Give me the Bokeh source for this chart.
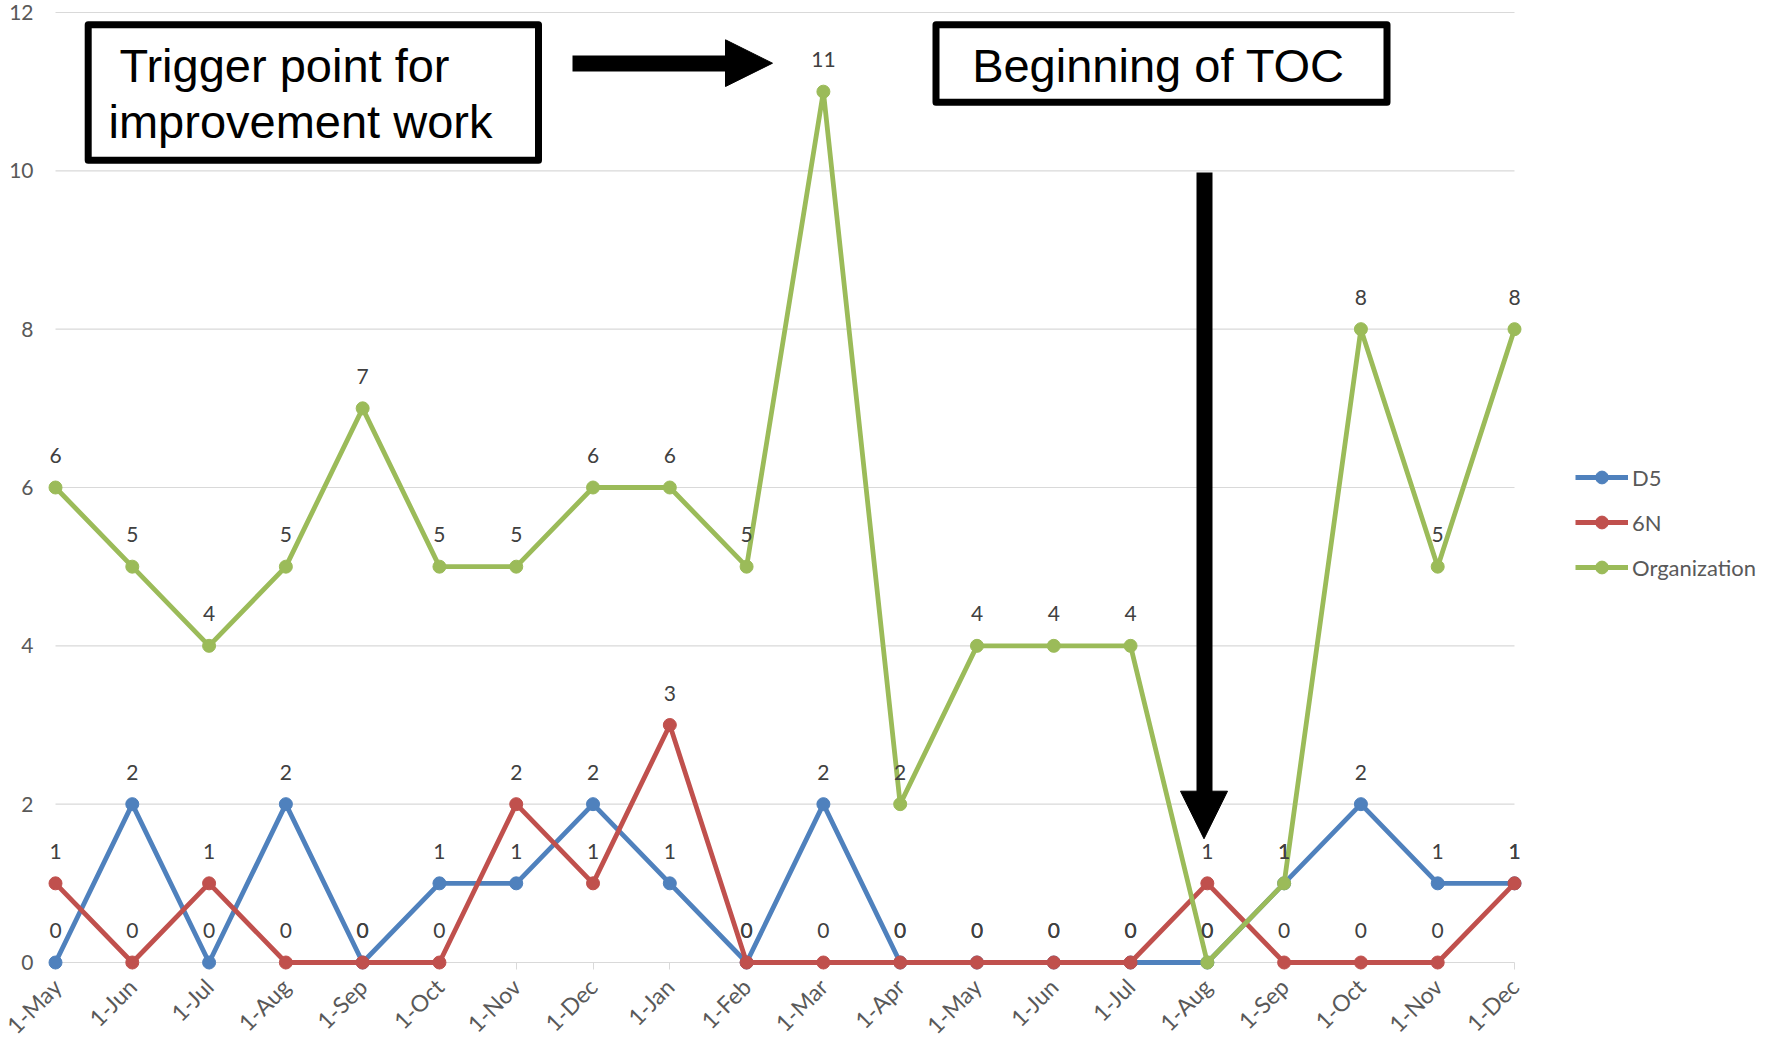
import math
from bokeh.plotting import figure
from bokeh.models import Range1d, FixedTicker, Legend, LegendItem, ColumnDataSource
from bokeh.core.properties import value
from bokeh.embed import file_html
from bokeh.resources import INLINE

# ---------------- data ----------------
months = ["1-May", "1-Jun", "1-Jul", "1-Aug", "1-Sep", "1-Oct", "1-Nov", "1-Dec",
          "1-Jan", "1-Feb", "1-Mar", "1-Apr", "1-May", "1-Jun", "1-Jul", "1-Aug",
          "1-Sep", "1-Oct", "1-Nov", "1-Dec"]
d5 = [0, 2, 0, 2, 0, 1, 1, 2, 1, 0, 2, 0, 0, 0, 0, 0, 1, 2, 1, 1]
n6 = [1, 0, 1, 0, 0, 0, 2, 1, 3, 0, 0, 0, 0, 0, 0, 1, 0, 0, 0, 1]
org = [6, 5, 4, 5, 7, 5, 5, 6, 6, 5, 11, 2, 4, 4, 4, 0, 1, 8, 5, 8]
series_names = ["D5", "6N", "Organization"]
series_values = [d5, n6, org]
y_ticks = [0, 2, 4, 6, 8, 10, 12]

# ---------------- layout constants (pixels) ----------------
# The frame covers the whole canvas; both axes are pinned at value 0 so that
# their labels, the legend and the call-outs all sit inside it.
W, H = 1777, 1040
X0_PX = 55                       # pixel column of the first category
X_LAST_PX = 1514                 # pixel column of the last category
Y0_PX = 962                      # pixel row of value 0
Y12_PX = 12                      # pixel row of value 12
X_LAST = len(months) - 1
PX_PER_X = (X_LAST_PX - X0_PX) / X_LAST
PX_PER_Y = (Y0_PX - Y12_PX) / 12.0

def px2x(px):
    return (px - X0_PX) / PX_PER_X

def py2y(py):
    return (Y0_PX - py) / PX_PER_Y

colors = ["#4F81BD", "#C0504D", "#9BBB59"]
LABEL_FONT = "Lato"
GRID = "#D9D9D9"

p = figure(width=W, height=H, output_backend="svg", toolbar_location=None,
           x_range=Range1d(px2x(0), px2x(W)), y_range=Range1d(py2y(H), py2y(0)),
           min_border_left=0, min_border_right=0, min_border_top=0,
           min_border_bottom=0)
p.outline_line_color = None
p.background_fill_color = "white"
p.border_fill_color = "white"

# axes
p.xaxis.fixed_location = 0
p.xaxis.ticker = FixedTicker(ticks=list(range(len(months))))
p.xaxis.major_label_overrides = {i: m for i, m in enumerate(months)}
p.xaxis.major_label_orientation = math.pi / 4
p.xaxis.axis_line_color = None
p.xaxis.major_tick_line_color = GRID
p.xaxis.major_tick_out = 7
p.xaxis.major_tick_in = 0
p.xaxis.minor_tick_line_color = None
p.xaxis.major_label_text_font = LABEL_FONT
p.xaxis.major_label_text_font_size = "23px"
p.xaxis.major_label_text_color = "#595959"
p.xaxis.major_label_standoff = 13

p.yaxis.fixed_location = 0
p.yaxis.ticker = FixedTicker(ticks=y_ticks)
p.yaxis.axis_line_color = None
p.yaxis.major_tick_line_color = None
p.yaxis.minor_tick_line_color = None
p.yaxis.major_label_text_font = LABEL_FONT
p.yaxis.major_label_text_font_size = "21px"
p.yaxis.major_label_text_color = "#595959"
p.yaxis.major_label_standoff = 16

p.xgrid.grid_line_color = None
p.ygrid.grid_line_color = None

# horizontal gridlines (and the category axis line at 0), spanning the categories only
p.segment(x0=[0] * len(y_ticks), x1=[X_LAST] * len(y_ticks), y0=y_ticks, y1=y_ticks,
          line_color=GRID, line_width=1.2)

# series
xs = list(range(len(months)))
items = []
for name, vals, col in zip(series_names, series_values, colors):
    src = ColumnDataSource(dict(x=xs, y=vals))
    lr = p.line("x", "y", source=src, line_color=col, line_width=4.8, level="overlay")
    sr = p.scatter("x", "y", source=src, size=13, fill_color=col, line_color=col,
                   level="overlay")
    items.append(LegendItem(label=name, renderers=[lr, sr]))

for name, vals, col in zip(series_names, series_values, colors):
    src = ColumnDataSource(dict(x=xs, y=vals, t=[str(v) for v in vals]))
    p.text("x", "y", text="t", source=src, text_font=value(LABEL_FONT),
           text_font_size="21px", text_color="#404040", text_align="center",
           text_baseline="middle", y_offset=-32, level="overlay")

# ---------------- call-outs (boxes & arrows) ----------------
def box(l, r, t, b):
    p.quad(left=px2x(l), right=px2x(r), top=py2y(t), bottom=py2y(b),
           fill_color="white", line_color="black", line_width=7,
           line_join="round", level="overlay")

box(87.7, 538, 24.2, 159.8)
box(935.5, 1386.5, 24.2, 101.8)

BOX_FONT = value("Liberation Sans")
p.text(x=[px2x(119)], y=[py2y(64.5)], text=["Trigger point for"], text_font=BOX_FONT,
       text_font_size="47px", text_color="black", text_align="left",
       text_baseline="middle", level="overlay")
p.text(x=[px2x(108)], y=[py2y(121.2)], text=["improvement work"], text_font=BOX_FONT,
       text_font_size="47px", text_color="black", text_align="left",
       text_baseline="middle", level="overlay")
p.text(x=[px2x(1158)], y=[py2y(65)], text=["Beginning of TOC"], text_font=BOX_FONT,
       text_font_size="47px", text_color="black", text_align="center",
       text_baseline="middle", level="overlay")

# arrow 1 (horizontal)
p.segment(x0=[px2x(572)], y0=[py2y(63)], x1=[px2x(728)], y1=[py2y(63)],
          line_color="black", line_width=16, line_cap="butt", level="overlay")
p.patch(x=[px2x(725), px2x(725), px2x(772)], y=[py2y(39.3), py2y(86), py2y(62.7)],
        fill_color="black", line_color="black", line_width=1, level="overlay")
# arrow 2 (vertical)
p.segment(x0=[px2x(1204)], y0=[py2y(172)], x1=[px2x(1204)], y1=[py2y(793)],
          line_color="black", line_width=16, line_cap="butt", level="overlay")
p.patch(x=[px2x(1180), px2x(1227), px2x(1203.5)], y=[py2y(790.7), py2y(790.7), py2y(838.3)],
        fill_color="black", line_color="black", line_width=1, level="overlay")

# legend (inside the frame, right of the categories)
LEG_ROW = 32
legend = Legend(items=items, location=(1575, H - (567 + LEG_ROW / 2)),
                glyph_width=53, glyph_height=LEG_ROW, label_height=LEG_ROW,
                label_standoff=4, spacing=13, padding=0, margin=0,
                border_line_color=None, background_fill_alpha=0,
                label_text_font=LABEL_FONT, label_text_font_size="22px",
                label_text_color="#595959")
p.add_layout(legend, "center")

open("out.html", "w").write(file_html(p, INLINE))
